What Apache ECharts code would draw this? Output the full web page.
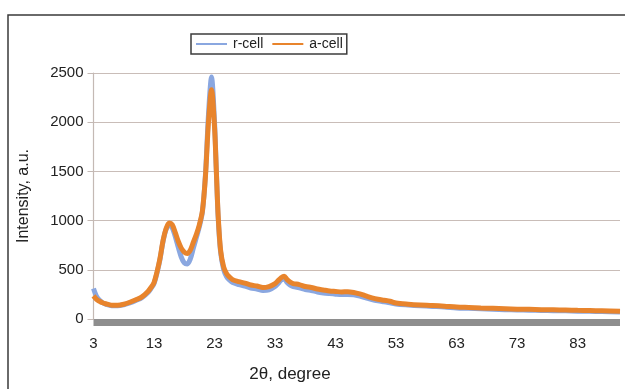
<!DOCTYPE html>
<html>
<head>
<meta charset="utf-8">
<script src="https://cdn.jsdelivr.net/npm/echarts@6/dist/echarts.min.js"></script>
<style>
html,body{margin:0;padding:0;background:#fff;}
#chart{width:625px;height:389px;}
</style>
</head>
<body>
<div id="chart"></div>
<script>
// 2θ angles (degree)
var angles = [3,3.5,4,4.5,5,6,7,8,9,10,11,12,12.5,13,13.5,14,14.5,15,15.5,16,16.5,17,17.5,18,18.5,19,19.5,20,20.5,21,21.5,22,22.5,23,23.3,23.6,24,24.5,25,25.5,26,27,28,29,30,31,32,33,33.5,34,34.5,35,35.5,36,37,38,39,40,41,42,43,44,45,46,47,48,49,50,51,52,53,55,57,59,61,63,65,67,69,71,73,75,77,79,81,83,85,87,90];
// r-cell intensity (a.u.)
var rCell = [310,230,190,165,150,135,135,145,163,188,218,270,310,360,470,610,790,910,955,930,840,730,630,570,560,610,720,830,940,1090,1470,2080,2460,2000,1500,1030,680,505,430,395,370,350,335,315,305,290,295,330,360,395,410,370,345,330,318,300,290,275,265,258,252,248,250,245,232,215,198,185,175,165,152,142,134,128,122,113,108,103,99,95,92,90,87,85,83,80,78,75,70];
// a-cell intensity (a.u.)
var aCell = [235,200,180,165,155,140,140,150,170,195,225,280,320,370,480,620,800,920,975,960,880,790,720,680,665,700,780,860,960,1100,1450,2000,2330,1950,1500,1050,700,530,460,425,400,380,365,345,335,320,330,360,390,420,435,400,375,360,350,330,320,305,295,285,280,275,278,270,255,235,215,200,190,180,162,150,142,137,130,122,117,112,108,104,100,98,95,93,91,88,86,83,78];
var xTicks = [3,13,23,33,43,53,63,73,83];
var yTicks = [0,500,1000,1500,2000,2500];
var seriesNames = ['r-cell','a-cell'];

function zip(xs, ys){ return xs.map(function(x,i){ return [x, ys[i]]; }); }

var chart = echarts.init(document.getElementById('chart'), null, {renderer:'canvas'});
chart.setOption({
  animation:false,
  backgroundColor:'#ffffff',
  textStyle:{fontFamily:'Liberation Sans, Arial, sans-serif'},
  grid:{left:93.5, right:5, top:73, bottom:70, containLabel:false},
  legend:{
    data:seriesNames,
    left:191, top:34,
    padding:[3,4,3,5],
    itemGap:9, itemWidth:31, itemHeight:2,
    icon:'rect',
    borderColor:'#3c3c3c', borderWidth:1.5, borderRadius:0,
    textStyle:{fontSize:14, color:'#222', padding:[0,0,0,1]}
  },
  xAxis:{
    type:'value', min:3, max:90,
    axisLine:{show:true, onZero:false, lineStyle:{color:'#8e8e8e', width:7, cap:'butt'}},
    offset:3.5,
    axisTick:{show:false},
    splitLine:{show:false},
    axisLabel:{customValues:xTicks, fontSize:15, color:'#222', margin:14}
  },
  yAxis:{
    type:'value', min:yTicks[0], max:yTicks[yTicks.length-1], interval:500,
    name:'Intensity, a.u.', nameLocation:'middle', nameGap:62,
    nameTextStyle:{fontSize:16, color:'#222'},
    axisLine:{show:true, lineStyle:{color:'#c4b9b4', width:1.2}},
    axisTick:{show:true, length:6, lineStyle:{color:'#c4b9b4'}},
    splitLine:{show:true, lineStyle:{color:'#c9bdb8', width:1.2}},
    axisLabel:{fontSize:15, color:'#222', margin:10, formatter:function(v){ return String(v); }}
  },
  graphic:[
    {type:'rect', shape:{x:8, y:15, width:700, height:420}, style:{fill:'none', stroke:'#3a3a3a', lineWidth:1.5}, z:-1},
    {type:'text', x:290, y:374, style:{text:'2\u03b8, degree', fontSize:17, fill:'#222', align:'center', verticalAlign:'middle', fontFamily:'Liberation Sans, Arial, sans-serif'}}
  ],
  series:[
    {name:seriesNames[0], type:'line', data:zip(angles, rCell), showSymbol:false, smooth:0.3,
     lineStyle:{color:'#8aa7e0', width:5}, itemStyle:{color:'#8aa7e0'}, z:2},
    {name:seriesNames[1], type:'line', data:zip(angles, aCell), showSymbol:false, smooth:0.3,
     lineStyle:{color:'#e8842c', width:5}, itemStyle:{color:'#e8842c'}, z:3}
  ]
});
</script>
</body>
</html>
